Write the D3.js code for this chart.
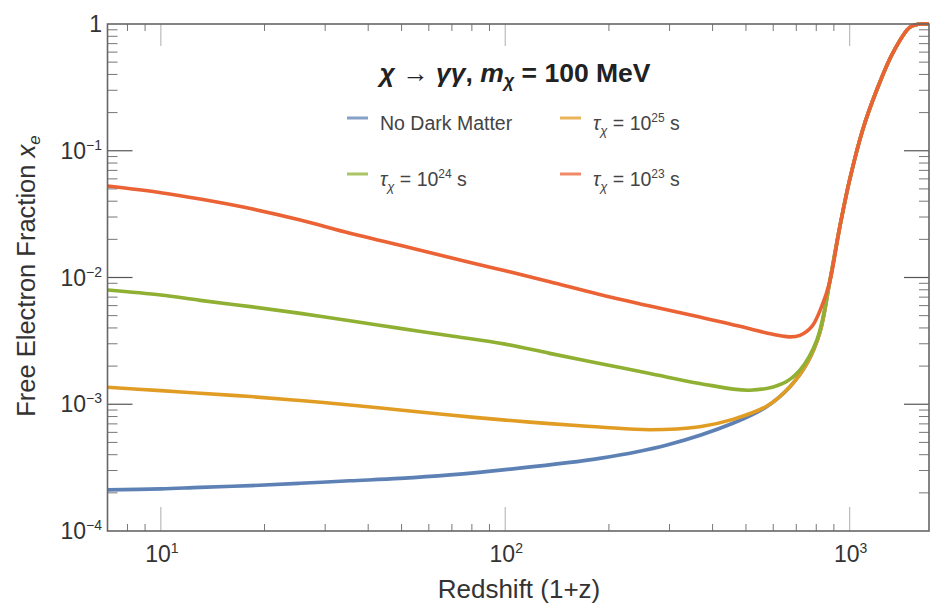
<!DOCTYPE html>
<html>
<head>
<meta charset="utf-8">
<script src="https://cdn.jsdelivr.net/npm/d3@7"></script>
<style>
  html, body { margin: 0; padding: 0; background: #fff; }
  text { font-family: "Liberation Sans", Arial, sans-serif; fill: #333; }
</style>
</head>
<body>
<div id="chart"></div>
<script>
// axis ranges (redshift 1+z, free electron fraction)
const xDomain = [7, 1700];
const yDomain = [1e-4, 1];
const xMajor = [10, 100, 1000];
const yMajor = [1e-4, 1e-3, 1e-2, 1e-1, 1];

// steep recombination part, shared by every curve
const recombTail = [[875, 0.0092], [936, 0.025], [1000, 0.059], [1091, 0.146], [1198, 0.30],
  [1334, 0.59], [1494, 0.94], [1580, 0.995], [1700, 1.0]];

const noDarkMatter = [[7, 0.000211], [10, 0.000215], [13, 0.000221], [18.2, 0.000228], [25.4, 0.000238],
  [35.4, 0.000249], [49.5, 0.00026], [69.1, 0.000277], [100, 0.000305], [188, 0.000374], [295, 0.000477],
  [458, 0.000708], [574, 0.000957], [670, 0.00137], [752, 0.0021], [820, 0.0037]];

const tau25 = [[7, 0.00136], [10, 0.00128], [13, 0.00122], [18.2, 0.00115], [25.4, 0.00107],
  [35.4, 0.000987], [49.5, 0.000901], [69.1, 0.000822], [100, 0.00075], [134.6, 0.000703], [188, 0.000662],
  [263, 0.00063], [367, 0.000665], [458, 0.00076], [574, 0.000965], [670, 0.00137], [752, 0.0021], [820, 0.0037]];

const tau24 = [[7, 0.00797], [10, 0.00728], [13, 0.0066], [18.2, 0.00589], [25.4, 0.00521],
  [35.4, 0.00456], [49.5, 0.00397], [69.1, 0.00347], [100, 0.00298], [134.6, 0.00252], [188, 0.0021],
  [263, 0.00175], [367, 0.00146], [513, 0.00129], [640, 0.00146], [717, 0.00186], [803, 0.00321]];

const tau23 = [[7, 0.0527], [10, 0.0467], [13, 0.0416], [18.2, 0.0350], [25.4, 0.0284],
  [35.4, 0.0223], [49.5, 0.018], [77.5, 0.0133], [100, 0.0113], [134.6, 0.00925], [188, 0.00734],
  [263, 0.00596], [367, 0.00487], [513, 0.00395], [574, 0.00365], [670, 0.0034], [717, 0.00349],
  [776, 0.00409], [829, 0.00589]];

const seriesLabels = ['No Dark Matter', '25', '24', '23'];   // lifetime exponents
const seriesColors = ['#5e81b5', '#e19c24', '#8fb032', '#eb6235'];

const series = [noDarkMatter, tau25, tau24, tau23].map((d, i) => ({
  label: seriesLabels[i],
  color: seriesColors[i],
  values: d.concat(recombTail)
}));

const width = 932, height = 609;
const plot = {left: 107.5, right: 929, top: 24, bottom: 531};

const svg = d3.select('#chart').append('svg')
  .attr('width', width)
  .attr('height', height);

const x = d3.scaleLog().domain(xDomain).range([plot.left, plot.right]);
const y = d3.scaleLog().domain(yDomain).range([plot.bottom, plot.top]);

// minor ticks 2..9 in each decade inside the domain
const minorTicks = (dom) => {
  const out = [];
  for (let e = -5; e <= 4; e++) {
    for (let k = 2; k <= 9; k++) {
      const v = k * Math.pow(10, e);
      if (v > dom[0] && v < dom[1]) out.push(v);
    }
  }
  return out;
};

const ticks = svg.append('g');

// y ticks, left and right
minorTicks(yDomain).forEach(v => {
  ticks.append('line').attr('x1', plot.left).attr('x2', plot.left + 10)
    .attr('y1', y(v)).attr('y2', y(v)).attr('stroke', '#777').attr('stroke-width', 1);
  ticks.append('line').attr('x1', plot.right).attr('x2', plot.right - 10)
    .attr('y1', y(v)).attr('y2', y(v)).attr('stroke', '#777').attr('stroke-width', 1);
});
yMajor.slice(1, -1).forEach(v => {
  ticks.append('line').attr('x1', plot.left).attr('x2', plot.left + 25)
    .attr('y1', y(v)).attr('y2', y(v)).attr('stroke', '#555').attr('stroke-width', 1.2);
  ticks.append('line').attr('x1', plot.right).attr('x2', plot.right - 25)
    .attr('y1', y(v)).attr('y2', y(v)).attr('stroke', '#555').attr('stroke-width', 1.2);
});

// x ticks, bottom and top
minorTicks(xDomain).forEach(v => {
  ticks.append('line').attr('x1', x(v)).attr('x2', x(v))
    .attr('y1', plot.bottom).attr('y2', plot.bottom - 7).attr('stroke', '#777').attr('stroke-width', 1);
  ticks.append('line').attr('x1', x(v)).attr('x2', x(v))
    .attr('y1', plot.top).attr('y2', plot.top + 7).attr('stroke', '#777').attr('stroke-width', 1);
});
xMajor.forEach(v => {
  ticks.append('line').attr('x1', x(v)).attr('x2', x(v))
    .attr('y1', plot.bottom).attr('y2', plot.bottom - 24).attr('stroke', '#bbb').attr('stroke-width', 1.2);
  ticks.append('line').attr('x1', x(v)).attr('x2', x(v))
    .attr('y1', plot.top).attr('y2', plot.top + 22).attr('stroke', '#bbb').attr('stroke-width', 1.2);
});

// curves
const line = d3.line()
  .x(d => x(d[0]))
  .y(d => y(d[1]))
  .curve(d3.curveCatmullRom.alpha(0.5));

svg.append('clipPath').attr('id', 'clip')
  .append('rect').attr('x', plot.left).attr('y', plot.top - 2)
  .attr('width', plot.right - plot.left).attr('height', plot.bottom - plot.top + 2);

svg.append('g').attr('clip-path', 'url(#clip)')
  .selectAll('path')
  .data(series)
  .enter().append('path')
  .attr('d', d => line(d.values))
  .attr('fill', 'none')
  .attr('stroke', d => d.color)
  .attr('stroke-width', 3.6)
  .attr('stroke-linejoin', 'round');

// frame
svg.append('rect')
  .attr('x', plot.left).attr('y', plot.top)
  .attr('width', plot.right - plot.left).attr('height', plot.bottom - plot.top)
  .attr('fill', 'none').attr('stroke', '#666').attr('stroke-width', 1.6);

// tick labels
const expText = (e) => (e < 0 ? '\u2212' + Math.abs(e) : String(e));

yMajor.forEach(v => {
  const e = Math.round(Math.log10(v));
  const t = svg.append('text')
    .attr('x', 102).attr('y', y(v) + 8)
    .attr('text-anchor', 'end')
    .style('font-size', '23px');
  if (e === 0) {
    t.text('1');
  } else {
    t.append('tspan').text('10');
    t.append('tspan').attr('dy', -9).style('font-size', '14px').text(expText(e));
  }
});

xMajor.forEach(v => {
  const e = Math.round(Math.log10(v));
  const t = svg.append('text')
    .attr('x', x(v) + 1).attr('y', 562)
    .attr('text-anchor', 'middle')
    .style('font-size', '23px');
  t.append('tspan').text('10');
  t.append('tspan').attr('dy', -9).style('font-size', '14px').text(expText(e));
});

// axis titles
svg.append('text')
  .attr('x', 519).attr('y', 598)
  .attr('text-anchor', 'middle')
  .style('font-size', '26px')
  .text('Redshift (1+z)');

const yt = svg.append('text')
  .attr('transform', 'translate(35,276) rotate(-90)')
  .attr('text-anchor', 'middle')
  .style('font-size', '25.5px');
yt.append('tspan').text('Free Electron Fraction ');
yt.append('tspan').style('font-style', 'italic').text('x');
yt.append('tspan').attr('dy', 5).style('font-size', '17px').style('font-style', 'italic').text('e');

// plot title
const title = svg.append('text')
  .attr('x', 515).attr('y', 82)
  .attr('text-anchor', 'middle')
  .style('font-size', '26.5px')
  .style('font-weight', 'bold')
  .style('fill', '#222');
title.append('tspan').style('font-style', 'italic').text('\u03c7');
title.append('tspan').text(' \u2192 ');
title.append('tspan').style('font-style', 'italic').text('\u03b3\u03b3');
title.append('tspan').text(', ');
title.append('tspan').style('font-style', 'italic').text('m');
title.append('tspan').attr('dy', 5).style('font-size', '18px').style('font-style', 'italic').text('\u03c7');
title.append('tspan').attr('dy', -5).text(' = 100 MeV');

// legend
const legendPos = [[347, 130], [560, 130], [347, 186], [560, 186]];
series.forEach((s, i) => {
  const [lx, ly] = legendPos[i];
  svg.append('line')
    .attr('x1', lx).attr('x2', lx + 21)
    .attr('y1', ly - 12).attr('y2', ly - 12)
    .attr('stroke', s.color).attr('stroke-width', 3).attr('stroke-opacity', 0.75);
  const t = svg.append('text')
    .attr('x', lx + 33).attr('y', ly)
    .style('font-size', '19.5px')
    .style('fill', '#444');
  if (i === 0) {
    t.text(s.label);
  } else {
    t.append('tspan').style('font-style', 'italic').text('\u03c4');
    t.append('tspan').attr('dy', 5).style('font-size', '13px').style('font-style', 'italic').text('\u03c7');
    t.append('tspan').attr('dy', -5).text(' = 10');
    t.append('tspan').attr('dy', -8).style('font-size', '12px').text(s.label);
    t.append('tspan').attr('dy', 8).text(' s');
  }
});
</script>
</body>
</html>
